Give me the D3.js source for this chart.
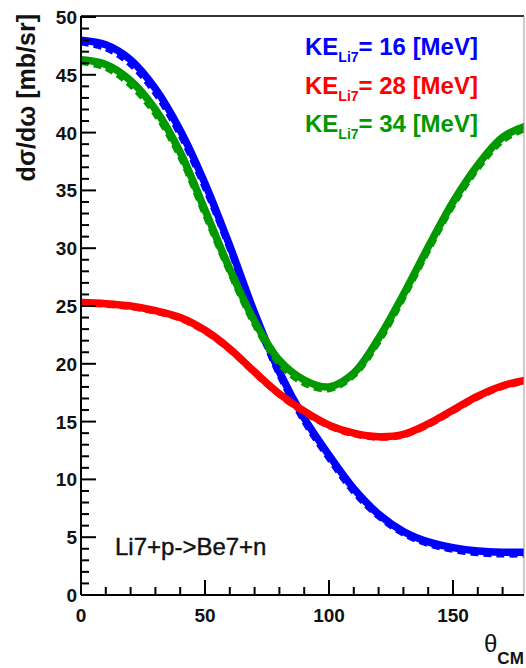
<!DOCTYPE html>
<html>
<head>
<meta charset="utf-8">
<script src="https://cdn.jsdelivr.net/npm/d3@7"></script>
<style>
  body { margin: 0; background: #fff; }
  text { font-family: "Liberation Sans", Arial, sans-serif; }
</style>
</head>
<body>
<div id="chart"></div>
<script>
// angles (deg, CM frame)
const theta = [0, 10, 20, 30, 40, 50, 60, 70, 80, 90, 100, 110, 120, 130, 140, 150, 160, 170, 180];

// KE = 16 MeV (blue)
const ke16 = [48.0, 47.6, 46.3, 43.8, 40.2, 35.6, 30.2, 24.4, 19.3, 15.3, 12.1, 9.2, 7.0, 5.5, 4.6, 4.1, 3.8, 3.7, 3.7];
const ke16dash = [47.8, 47.3, 45.9, 43.4, 39.8, 35.2, 29.9, 24.1, 19.0, 15.0, 11.8, 8.9, 6.8, 5.3, 4.4, 3.9, 3.6, 3.5, 3.5];
// KE = 28 MeV (red)
const ke28 = [25.3, 25.2, 25.0, 24.6, 24.0, 22.9, 21.3, 19.3, 17.4, 15.9, 14.7, 14.0, 13.7, 13.9, 14.8, 16.0, 17.2, 18.1, 18.6];
const ke28dash = [25.2, 25.1, 24.9, 24.5, 23.9, 22.8, 21.2, 19.2, 17.3, 15.8, 14.6, 13.9, 13.6, 13.8, 14.7, 15.9, 17.1, 18.0, 18.5];
// KE = 34 MeV (green)
const ke34 = [46.3, 45.9, 44.5, 42.0, 38.3, 33.3, 28.2, 23.7, 20.3, 18.6, 18.0, 19.2, 22.2, 26.0, 30.1, 34.0, 37.2, 39.6, 40.6];
const ke34dash = [46.1, 45.6, 44.1, 41.6, 37.9, 32.9, 27.9, 23.4, 20.0, 18.3, 17.8, 19.0, 21.9, 25.7, 29.8, 33.7, 36.9, 39.3, 40.4];

const seriesNames = ["16", "28", "34"];
const seriesColors = ["#0000ff", "#ff0000", "#009900"];

const xTicks = [0, 50, 100, 150];
const yTicks = [0, 5, 10, 15, 20, 25, 30, 35, 40, 45, 50];

const W = 526, H = 668;
const pLeft = 81, pRight = 524, pTop = 16, pBottom = 595;

const svg = d3.select("#chart").append("svg")
    .attr("width", W)
    .attr("height", H);

const x = d3.scaleLinear().domain([0, 150]).range([pLeft, 453]);
const y = d3.scaleLinear().domain([0, 50]).range([pBottom, 17]);

// clip to frame
svg.append("defs").append("clipPath").attr("id", "clip")
    .append("rect")
    .attr("x", pLeft).attr("y", pTop)
    .attr("width", pRight - pLeft).attr("height", pBottom - pTop);

const plot = svg.append("g").attr("clip-path", "url(#clip)");

const line = d3.line()
    .x((d, i) => x(theta[i]))
    .y(d => y(d))
    .curve(d3.curveCatmullRom);

const solid = [ke16, ke28, ke34];
const dashed = [ke16dash, ke28dash, ke34dash];

solid.forEach((s, k) => {
    plot.append("path")
        .attr("d", line(dashed[k]))
        .attr("fill", "none")
        .attr("stroke", seriesColors[k])
        .attr("stroke-width", 6)
        .attr("stroke-dasharray", "8,5");
    plot.append("path")
        .attr("d", line(s))
        .attr("fill", "none")
        .attr("stroke", seriesColors[k])
        .attr("stroke-width", 7.5);
});

// frame
svg.append("line").attr("x1", pLeft).attr("x2", pRight).attr("y1", pTop).attr("y2", pTop)
    .attr("stroke", "#333").attr("stroke-width", 2);
svg.append("line").attr("x1", pRight).attr("x2", pRight).attr("y1", pTop).attr("y2", pBottom)
    .attr("stroke", "#999").attr("stroke-width", 1);

// axes (ticks inward, ROOT style)
const xAxis = svg.append("g");
xAxis.append("line").attr("x1", pLeft).attr("x2", pRight).attr("y1", pBottom).attr("y2", pBottom)
    .attr("stroke", "#000").attr("stroke-width", 2);
d3.range(0, 180, 10).forEach(t => {
    const major = t % 50 === 0;
    xAxis.append("line")
        .attr("x1", x(t)).attr("x2", x(t))
        .attr("y1", pBottom).attr("y2", pBottom - (major ? 15 : 8))
        .attr("stroke", "#000").attr("stroke-width", 2);
});
xAxis.selectAll("text.tick").data(xTicks).enter().append("text")
    .attr("x", d => x(d)).attr("y", 622)
    .attr("text-anchor", "middle")
    .attr("font-size", 19).attr("font-weight", "bold").attr("fill", "#111")
    .text(d => d);

const yAxis = svg.append("g");
yAxis.append("line").attr("x1", pLeft).attr("x2", pLeft).attr("y1", pTop).attr("y2", pBottom)
    .attr("stroke", "#000").attr("stroke-width", 2);
d3.range(0, 51, 1).forEach(v => {
    const major = v % 5 === 0;
    yAxis.append("line")
        .attr("x1", pLeft).attr("x2", pLeft + (major ? 15 : 8))
        .attr("y1", y(v)).attr("y2", y(v))
        .attr("stroke", "#000").attr("stroke-width", 2);
});
yAxis.selectAll("text.tick").data(yTicks).enter().append("text")
    .attr("x", 77).attr("y", d => y(d) + 7)
    .attr("text-anchor", "end")
    .attr("font-size", 19).attr("font-weight", "bold").attr("fill", "#111")
    .text(d => d);

// axis titles
svg.append("text")
    .attr("transform", "translate(35,14) rotate(-90)")
    .attr("text-anchor", "end")
    .attr("font-size", 25).attr("font-weight", "bold").attr("fill", "#111")
    .text("dσ/dω [mb/sr]");

const xt = svg.append("text")
    .attr("x", 484).attr("y", 652)
    .attr("font-size", 24).attr("fill", "#111");
xt.append("tspan").text("θ");
xt.append("tspan").attr("dy", 12).attr("font-size", 17).attr("font-weight", "bold").text("CM");

// legend
seriesNames.forEach((n, k) => {
    const t = svg.append("text")
        .attr("x", 305).attr("y", 55 + k * 38.5)
        .attr("font-size", 24).attr("font-weight", "bold")
        .attr("fill", seriesColors[k]);
    t.append("tspan").text("KE");
    t.append("tspan").attr("dy", 7).attr("font-size", 14).text("Li7");
    t.append("tspan").attr("dy", -7).text("= " + n + " [MeV]");
});

svg.append("text")
    .attr("x", 115).attr("y", 555)
    .attr("font-size", 24).attr("fill", "#111")
    .attr("stroke", "#111").attr("stroke-width", 0.4)
    .text("Li7+p->Be7+n");
</script>
</body>
</html>
